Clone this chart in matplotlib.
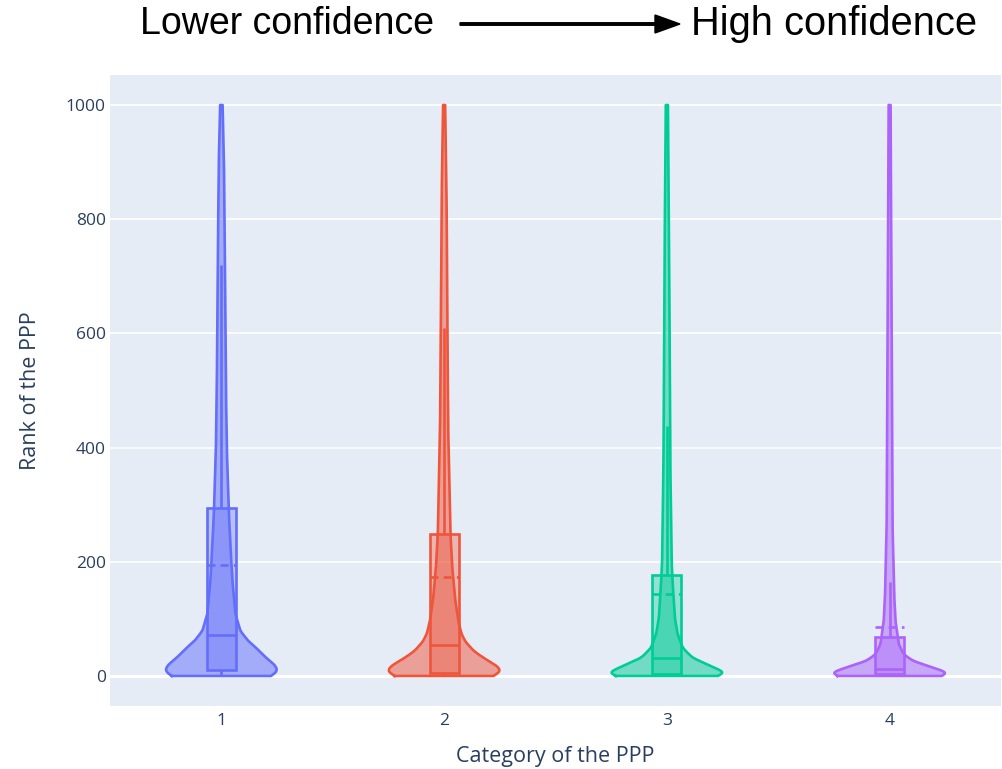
"""Violin plot of PPP rank per confidence category."""

import matplotlib.pyplot as plt
import numpy as np
from matplotlib.patches import FancyArrow

# categories and summary stats
categories = [1, 2, 3, 4]
q1 = [11, 6, 4, 3]
median = [72, 55, 31, 13]
q3 = [295, 249, 177, 68]
mean = [195, 174, 143, 86]
upper_fence = [720, 610, 437, 165]
lower_fence = [0, 0, 0, 0]

# violin outlines: rank value -> relative density
rank_1 = [0, 4, 12, 20, 30, 40, 49, 61, 79, 109, 167, 230, 284, 395, 500, 725, 900, 1000]
dens_1 = [48, 54, 56, 53, 46, 40, 35, 27, 19, 14, 11, 9, 7.5, 5.5, 4.6, 3.6, 2.6, 1.2]
rank_2 = [0, 5, 12, 20, 26, 35, 44, 60, 74, 96, 132, 190, 250, 433, 609, 842, 1000]
dens_2 = [47, 54, 55, 50, 44, 36, 29, 21, 17, 14, 11, 8, 6.2, 4, 3.2, 2.4, 1.0]
rank_3 = [0, 5, 12, 21, 32, 49, 74, 102, 161, 198, 374, 725, 1000]
dens_3 = [46, 55, 48, 37, 24, 15, 10, 7.5, 5.5, 4.5, 3.2, 2.2, 1.0]
rank_4 = [0, 5, 12, 17, 26, 38, 56, 96, 140, 258, 549, 1000]
dens_4 = [47, 55, 45, 37, 22, 13, 8.5, 5.5, 4.3, 2.8, 2.0, 0.9]

ranks = [rank_1, rank_2, rank_3, rank_4]
densities = [dens_1, dens_2, dens_3, dens_4]
colors = ["#636efa", "#EF553B", "#00cc96", "#ab63fa"]

y_ticks = [0, 200, 400, 600, 800, 1000]


def smooth_profile(r, d, n=2001, sigma=3.0):
    """Interpolate a density profile on a fine grid and soften the corners."""
    grid = np.linspace(r[0], r[-1], n)
    w = np.interp(grid, r, d)
    step = grid[1] - grid[0]
    k = np.arange(-4 * sigma, 4 * sigma + step, step)
    kern = np.exp(-0.5 * (k / sigma) ** 2)
    kern /= kern.sum()
    pad = len(k) // 2
    wp = np.pad(w, pad, mode="edge")
    ws = np.convolve(wp, kern, mode="same")[pad:-pad]
    return grid, ws


fig = plt.figure(figsize=(10.03, 7.69), dpi=100)
ax = fig.add_axes([110 / 1003, 63 / 769, 891 / 1003, 631 / 769])
ax.set_facecolor("#E5ECF6")

half_width = 0.248
box_half = 0.065
lw = 1.9

for cat, r, d, c, a, b, m, mu, uf, lf in zip(
    categories, ranks, densities, colors, q1, q3, median, mean, upper_fence, lower_fence
):
    grid, w = smooth_profile(r, d)
    w = w / w.max() * half_width
    ax.fill_betweenx(grid, cat - w, cat + w, color=c, alpha=0.5, lw=0, zorder=2)
    # outline as a closed path
    xs = np.concatenate([cat - w, (cat + w)[::-1], [cat - w[0]]])
    ys = np.concatenate([grid, grid[::-1], [grid[0]]])
    ax.plot(xs, ys, color=c, lw=lw, zorder=3, solid_joinstyle="round")

    # whiskers
    ax.vlines(cat, lf, a, color=c, lw=lw, zorder=4)
    ax.vlines(cat, b, uf, color=c, lw=lw, zorder=4)
    # box
    ax.bar(cat, b - a, bottom=a, width=2 * box_half, color=c, alpha=0.35,
           lw=0, zorder=4)
    ax.bar(cat, b - a, bottom=a, width=2 * box_half, facecolor="none",
           edgecolor=c, lw=lw, zorder=5)
    ax.hlines(m, cat - box_half, cat + box_half, color=c, lw=lw, zorder=5)
    ax.hlines(mu, cat - box_half, cat + box_half, color=c, lw=lw,
              linestyles=(0, (3, 2)), zorder=5)

ax.set_xlim(0.5, 4.5)
ax.set_ylim(-52.6, 1052.6)
ax.set_xticks(categories)
ax.set_xticklabels([str(c) for c in categories])
ax.set_yticks(y_ticks)
ax.set_yticklabels([str(t) for t in y_ticks])

ax.grid(axis="y", color="white", lw=1.2, zorder=0)
ax.set_axisbelow(True)
ax.axhline(0, color="white", lw=2.2, zorder=1)
for s in ax.spines.values():
    s.set_visible(False)
ax.tick_params(length=0, colors="#2a3f5f", labelsize=12.5)
ax.tick_params(axis="x", pad=5)
ax.tick_params(axis="y", pad=3)
for lab in ax.get_xticklabels() + ax.get_yticklabels():
    lab.set_family("Open Sans")

ax.set_xlabel("Category of the PPP", fontsize=15.5, color="#2a3f5f",
              family="Open Sans", labelpad=12)
ax.set_ylabel("Rank of the PPP", fontsize=15.5, color="#2a3f5f",
              family="Open Sans", labelpad=18)

# header annotation
fig.text(140 / 1003, 1 - 24 / 769, "Lower confidence", fontsize=27,
         family="Liberation Sans", ha="left", va="center")
fig.text(977 / 1003, 1 - 24 / 769, "High confidence", fontsize=28.7,
         family="Liberation Sans", ha="right", va="center")
fig.patches.append(FancyArrow(
    460 / 1003, 1 - 24 / 769, 220 / 1003, 0, width=2.5 / 769,
    head_width=18 / 769, head_length=25 / 1003, length_includes_head=True,
    color="black", transform=fig.transFigure, figure=fig))

fig.savefig("out.png", dpi=100)
